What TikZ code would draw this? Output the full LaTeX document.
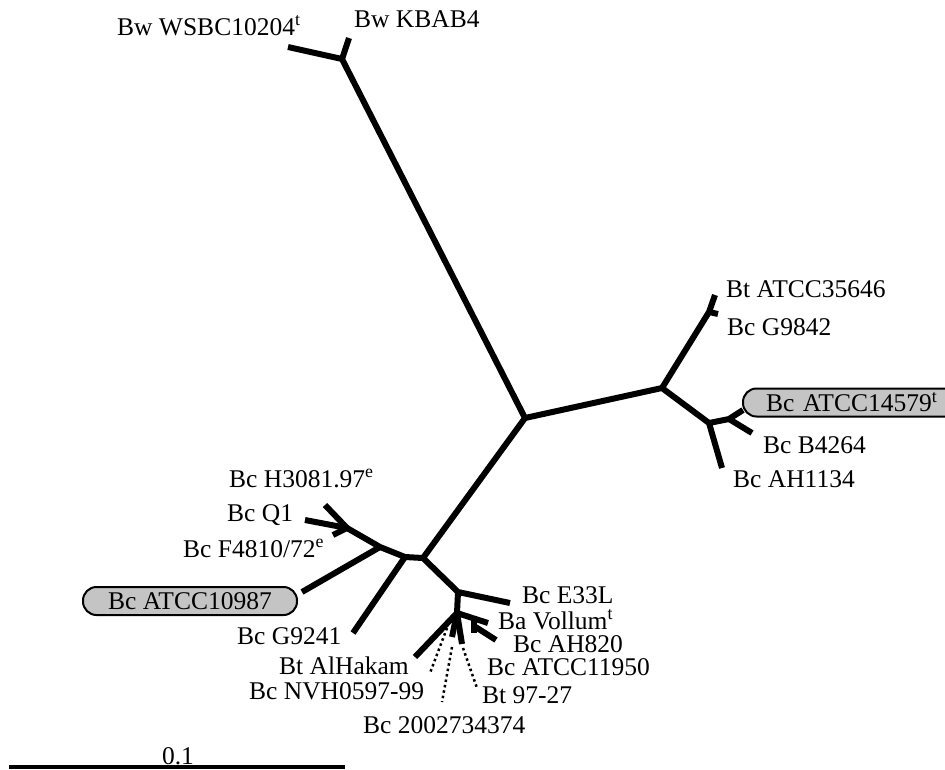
\documentclass[tikz,border=0pt]{standalone}
\usepackage{fontspec}
\setmainfont{Liberation Serif}
\definecolor{boxgray}{RGB}{196,196,196}
\tikzset{
  br/.style={line width=6pt, line cap=butt, line join=round},
  dt/.style={line width=2.5pt, dash pattern=on 2.5pt off 3pt},
  lbl/.style={anchor=base west, inner sep=0pt, font=\fontsize{25.5}{30}\selectfont},
  capbox/.style={draw, line width=2pt, fill=boxgray, rounded corners=13.5pt, minimum height=28pt, inner sep=0pt, font=\fontsize{25.5}{30}\selectfont}
}
\begin{document}
\begin{tikzpicture}[x=1pt,y=-1pt]
\clip (0,0) rectangle (945,769);
\fill[white] (0,0) rectangle (945,769);
% internal nodes and tips
\coordinate (C0) at (525,418);
\coordinate (W) at (342,59);
\coordinate (Wa) at (288,47);
\coordinate (Wb) at (349,38);
\coordinate (R) at (662,388);
\coordinate (U) at (709,312);
\coordinate (Ua) at (715,295);
\coordinate (Ub) at (718,314);
\coordinate (L) at (709,423);
\coordinate (Lc) at (722,468);
\coordinate (S) at (729,419);
\coordinate (Sa) at (743,410);
\coordinate (Sb) at (752,433);
\coordinate (LL) at (423,558);
\coordinate (M) at (405,557);
\coordinate (G) at (353,633);
\coordinate (N1) at (380,547);
\coordinate (Ab) at (302,592);
\coordinate (N2) at (347,528);
\coordinate (H) at (325,505);
\coordinate (Q) at (305,520);
\coordinate (F) at (333,535);
\coordinate (B1) at (458,592);
\coordinate (E) at (510,603);
\coordinate (B2) at (457,613);
\coordinate (AlH) at (415,657);
\coordinate (Vol) at (488,623);
\coordinate (V1) at (474,619);
\coordinate (V2) at (474,633);
\coordinate (V3) at (474,626);
\coordinate (AH) at (496,640);
\coordinate (T1) at (462,644);
\coordinate (T2) at (452,637);
\coordinate (d1a) at (447,628);
\coordinate (d1b) at (430,673);
\coordinate (d2a) at (452,647);
\coordinate (d2b) at (442,702);
\coordinate (d3a) at (463,648);
\coordinate (d3b) at (477,688);
% branches
\draw[br] (Wa) -- (W) -- (C0);
\draw[br] (W) -- (Wb);
\draw[br] (C0) -- (R) -- (U) -- (Ua);
\draw[br] (U) -- (Ub);
\draw[br] (R) -- (L) -- (Lc);
\draw[br] (L) -- (S) -- (Sa);
\draw[br] (S) -- (Sb);
\draw[br] (C0) -- (LL) -- (M) -- (N1) -- (N2) -- (H);
\draw[br] (M) -- (G);
\draw[br] (N1) -- (Ab);
\draw[br] (N2) -- (Q);
\draw[br] (N2) -- (F);
\draw[br] (LL) -- (B1) -- (E);
\draw[br] (B1) -- (B2) -- (AlH);
\draw[br] (B2) -- (Vol);
\draw[br] (V1) -- (V2);
\draw[br] (V3) -- (AH);
\draw[br] (B2) -- (T1);
\draw[br] (B2) -- (T2);
\draw[dt] (d1a) -- (d1b);
\draw[dt] (d2a) -- (d2b);
\draw[dt] (d3a) -- (d3b);
% boxed labels
\node[capbox, minimum width=214pt] (tA10987) at (190,601) {Bc ATCC10987};
\node[capbox, anchor=west, text width=222pt, align=left] (tA14579) at (742,402.5) {\hspace*{23pt}Bc ATCC14579\textsuperscript{t}};
% labels
\node[lbl] (tWSBC) at (117,35) {Bw WSBC10204\textsuperscript{t}};
\node[lbl] (tKBAB) at (354,27) {Bw KBAB4};
\node[lbl] (t35646) at (726,297) {Bt ATCC35646};
\node[lbl] (tG9842) at (727,335) {Bc G9842};
\node[lbl] (tB4264) at (763,453) {Bc B4264};
\node[lbl] (tAH1134) at (733,487) {Bc AH1134};
\node[lbl] (tH3081) at (229,487) {Bc H3081.97\textsuperscript{e}};
\node[lbl] (tQ1) at (227,521) {Bc Q1};
\node[lbl] (tF4810) at (183,557) {Bc F4810/72\textsuperscript{e}};
\node[lbl] (tG9241) at (237,644) {Bc G9241};
\node[lbl] (tAlH) at (279,674) {Bt AlHakam};
\node[lbl] (tNVH) at (249,699) {Bc NVH0597-99};
\node[lbl] (t2002) at (363,733) {Bc 2002734374};
\node[lbl] (t9727) at (482,703) {Bt 97-27};
\node[lbl] (t11950) at (487,675) {Bc ATCC11950};
\node[lbl] (tAH820) at (513,652) {Bc AH820};
\node[lbl] (tVol) at (498,629) {Ba Vollum\textsuperscript{t}};
\node[lbl] (tE33L) at (522,603) {Bc E33L};
% scale bar
\coordinate (s1) at (9,767);
\coordinate (s2) at (345,767);
\draw[line width=3.5pt] (s1) -- (s2);
\node[lbl, anchor=base] (tscale) at (178,764) {0.1};
\end{tikzpicture}
\end{document}
